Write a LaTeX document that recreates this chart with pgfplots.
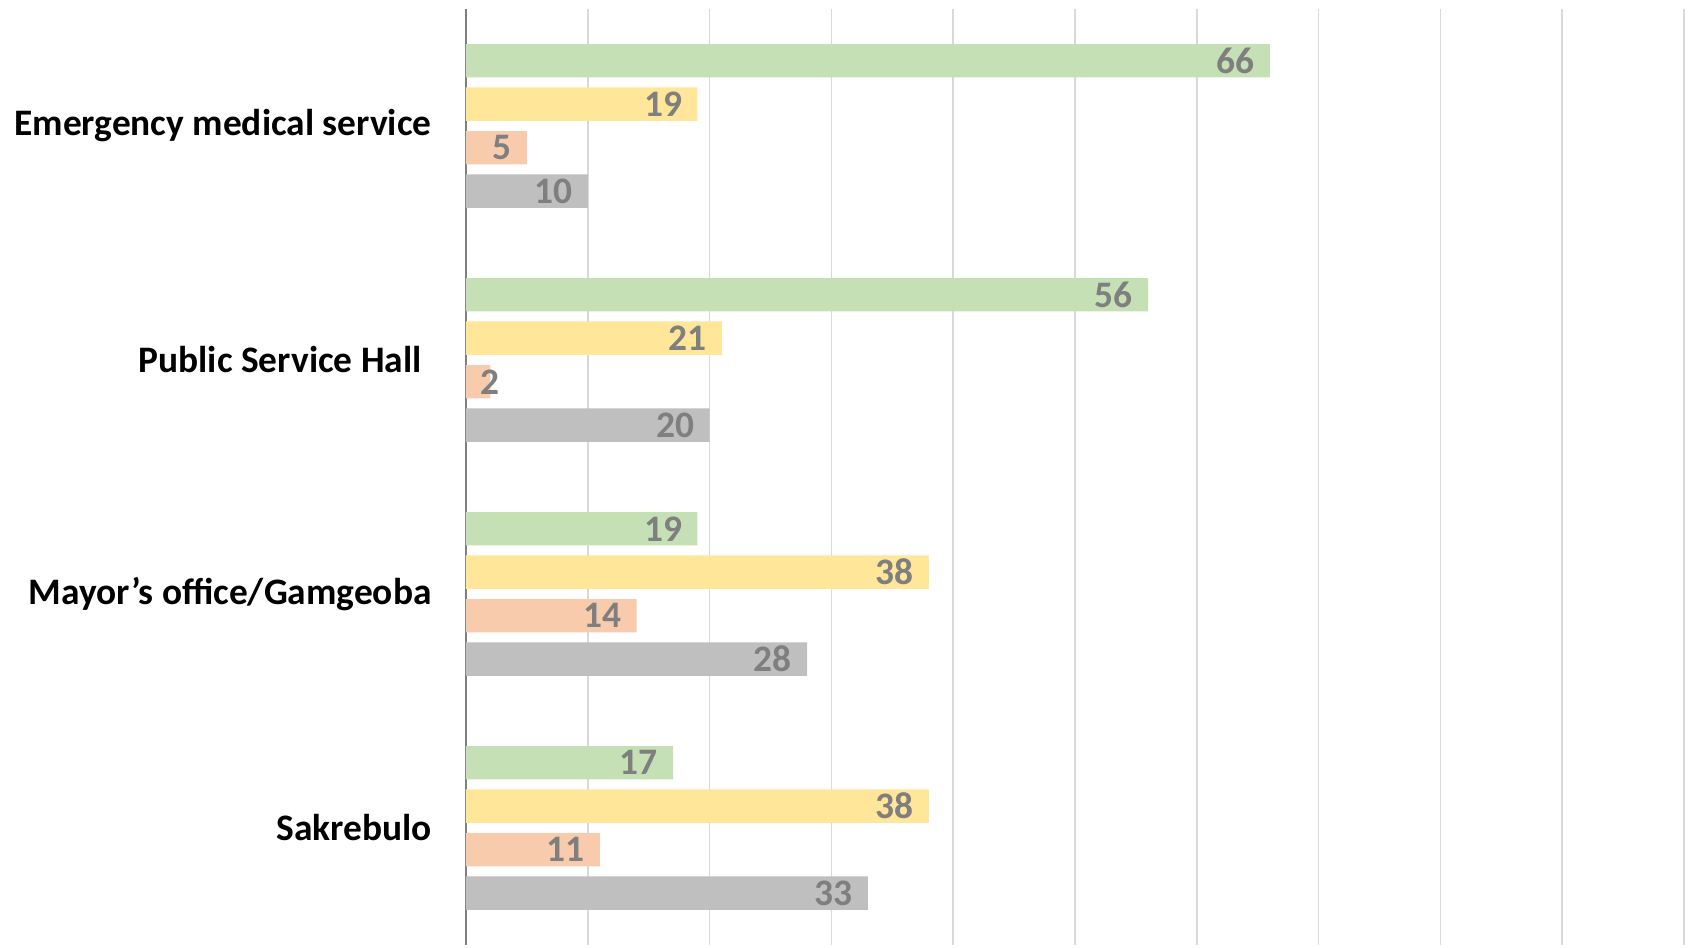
\documentclass[border=0pt]{standalone}
\usepackage{fontspec}
\setmainfont{Carlito}
\usepackage{pgfplots}
\pgfplotsset{compat=1.18}

\definecolor{cgreen}{HTML}{C5E0B4}
\definecolor{cyellow}{HTML}{FFE699}
\definecolor{corange}{HTML}{F8CBAD}
\definecolor{cgray}{HTML}{BFBFBF}
\definecolor{labgray}{HTML}{7F7F7F}
\definecolor{gridgray}{HTML}{D9D9D9}

\begin{document}
\begin{tikzpicture}
\begin{axis}[
  scale only axis,
  width=609pt, height=468pt,
  xbar, bar width=16.7pt,
  xmin=0, xmax=100,
  ymin=0.5, ymax=4.5,
  xtick={0,10,...,100}, xticklabels={},
  ytick={1,2,3,4},
  yticklabels={Sakrebulo, Mayor’s office/Gamgeoba, Public Service Hall\kern5pt, Emergency medical service},
  yticklabel style={font=\bfseries\fontsize{18.7}{22}\selectfont, text=black},
  major tick length=0pt,
  tick label style={inner sep=0pt},
  yticklabel style={xshift=-17pt},
  xmajorgrids,
  grid style={gridgray, line width=0.75pt},
  axis x line*=bottom,
  x axis line style={draw=none},
  axis y line*=left,
  y axis line style={labgray, line width=0.75pt},
  /pgf/number format/assume math mode=true,
  nodes near coords,
  every node near coord/.append style={
    font=\bfseries\fontsize{18.7}{22}\selectfont, text=labgray, inner sep=0pt},
  coordinate style/.condition={x>=4}{anchor=east, xshift=-7.5pt},
  coordinate style/.condition={x<4}{anchor=center, xshift=0pt},
]
% Emergency=4, Public Service Hall=3, Mayor's office=2, Sakrebulo=1
\addplot[fill=cgreen, draw=none, bar shift=32.6pt] coordinates {(66,4) (56,3) (19,2) (17,1)};
\addplot[fill=cyellow, draw=none, bar shift=10.9pt] coordinates {(19,4) (21,3) (38,2) (38,1)};
\addplot[fill=corange, draw=none, bar shift=-10.9pt] coordinates {(5,4) (2,3) (14,2) (11,1)};
\addplot[fill=cgray, draw=none, bar shift=-32.6pt] coordinates {(10,4) (20,3) (28,2) (33,1)};
\end{axis}
\path ([xshift=-233pt]current axis.south west) rectangle ([xshift=3.5pt,yshift=4.5pt]current axis.north east);
\end{tikzpicture}
\end{document}
